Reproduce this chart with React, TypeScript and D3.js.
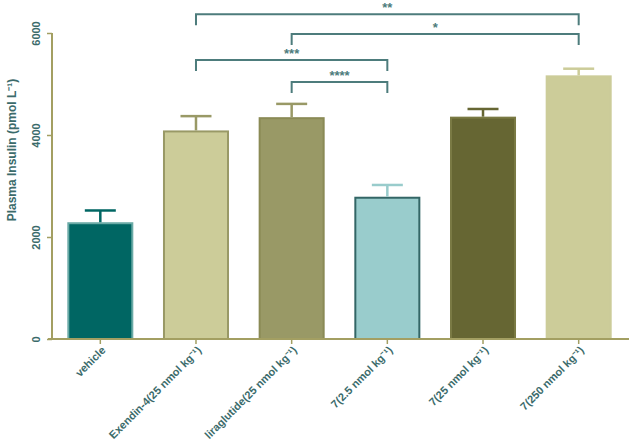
import React, { useEffect, useRef } from "react";
import * as d3 from "d3";

const groups = [
  "vehicle",
  "Exendin-4(25 nmol kg\u207B\u00B9)",
  "liraglutide(25 nmol kg\u207B\u00B9)",
  "7(2.5 nmol kg\u207B\u00B9)",
  "7(25 nmol kg\u207B\u00B9)",
  "7(250 nmol kg\u207B\u00B9)",
];
const means = [2270, 4070, 4330, 2770, 4340, 5150];
const sems = [250, 300, 280, 250, 170, 150];
const fills = ["#006663", "#cccc99", "#999966", "#99cccc", "#666633", "#cccc99"];
const strokes = ["#6aaaa6", "#999966", "#8a8a55", "#336666", "#7a7a44", "#cccc99"];
const errColors = ["#006663", "#999966", "#999966", "#99cccc", "#666633", "#cccc99"];
const yTicks = [0, 2000, 4000, 6000];

// significance brackets: from index, to index, label, bracket height (pmol/L)
const bFrom = [1, 2, 1, 2];
const bTo = [5, 5, 3, 3];
const bLabel = ["**", "*", "***", "****"];
const bLevel = [6370, 5980, 5470, 5040];

const W = 629;
const H = 448;
const axisCol = "#a39f62";
const textCol = "#3b6b6b";
const sigCol = "#4d7c7c";
const font = "Liberation Sans, Arial, sans-serif";

const App = () => {
  const ref = useRef<SVGSVGElement>(null);

  useEffect(() => {
    const svg = d3.select(ref.current);
    svg.selectAll("*").remove();

    const left = 52;
    const x = d3.scaleBand().domain(groups).range([left, 627]).paddingInner(0.31).paddingOuter(0.16);
    const y = d3.scaleLinear().domain([0, 6000]).range([339, 33]);
    const g = svg.append("g");

    // bars
    g.selectAll("rect.bar")
      .data(groups)
      .join("rect")
      .attr("class", "bar")
      .attr("x", (d) => x(d)! + 1)
      .attr("width", x.bandwidth() - 2)
      .attr("y", (d, i) => y(means[i]))
      .attr("height", (d, i) => y(0) - y(means[i]))
      .attr("fill", (d, i) => fills[i])
      .attr("stroke", (d, i) => strokes[i])
      .attr("stroke-width", 2);

    // error bars (upper SEM)
    const eb = g.selectAll("g.err").data(groups).join("g").attr("class", "err");
    eb.append("line")
      .attr("x1", (d) => x(d)! + x.bandwidth() / 2)
      .attr("x2", (d) => x(d)! + x.bandwidth() / 2)
      .attr("y1", (d, i) => y(means[i]) - 1)
      .attr("y2", (d, i) => y(means[i] + sems[i]))
      .attr("stroke", (d, i) => errColors[i])
      .attr("stroke-width", 2.5);
    eb.append("line")
      .attr("x1", (d) => x(d)! + x.bandwidth() / 2 - 15.5)
      .attr("x2", (d) => x(d)! + x.bandwidth() / 2 + 15.5)
      .attr("y1", (d, i) => y(means[i] + sems[i]))
      .attr("y2", (d, i) => y(means[i] + sems[i]))
      .attr("stroke", (d, i) => errColors[i])
      .attr("stroke-width", 2.5);

    // axes
    const yAxis = g.append("g").attr("transform", `translate(${left},0)`)
      .call(d3.axisLeft(y).tickValues(yTicks).tickSize(5).tickFormat(d3.format("d")));
    yAxis.select(".domain").attr("stroke", axisCol).attr("stroke-width", 2).attr("d", `M0,${y(6000)}V${y(0)}`);
    yAxis.selectAll(".tick line").attr("stroke", axisCol).attr("stroke-width", 1.5);
    yAxis.selectAll(".tick text")
      .attr("x", 0).attr("y", 0).attr("dy", null)
      .attr("transform", "translate(-12,0) rotate(-90)")
      .attr("text-anchor", "middle")
      .attr("fill", textCol)
      .attr("font-family", font)
      .attr("font-weight", "bold")
      .attr("font-size", 11);

    const xAxis = g.append("g").attr("transform", `translate(0,${y(0)})`)
      .call(d3.axisBottom(x).tickSize(5).tickSizeOuter(0));
    xAxis.select(".domain").attr("stroke", axisCol).attr("stroke-width", 2).attr("d", `M${left - 4},0H${W}`);
    xAxis.selectAll(".tick line").attr("stroke", axisCol).attr("stroke-width", 1.5);
    xAxis.selectAll(".tick text")
      .attr("x", 0).attr("y", 0).attr("dy", null)
      .attr("transform", "translate(6,12) rotate(-45)")
      .attr("text-anchor", "end")
      .attr("fill", textCol)
      .attr("font-family", font)
      .attr("font-weight", "bold")
      .attr("font-size", 11);

    svg.append("text")
      .attr("transform", `translate(16,150) rotate(-90)`)
      .attr("text-anchor", "middle")
      .attr("fill", textCol)
      .attr("font-family", font)
      .attr("font-weight", "bold")
      .attr("font-size", 12)
      .text("Plasma Insulin (pmol L\u207B\u00B9)");

    // significance brackets
    const cx = (i: number) => x(groups[i])! + x.bandwidth() / 2;
    const br = svg.selectAll("g.br").data(bLabel).join("g").attr("class", "br");
    br.append("path")
      .attr("d", (d, i) => {
        const yy = y(bLevel[i]);
        return `M${cx(bFrom[i])},${yy + 11}V${yy}H${cx(bTo[i])}V${yy + 11}`;
      })
      .attr("fill", "none")
      .attr("stroke", sigCol)
      .attr("stroke-width", 2);
    br.append("text")
      .attr("x", (d, i) => (cx(bFrom[i]) + cx(bTo[i])) / 2)
      .attr("y", (d, i) => y(bLevel[i]) - 2)
      .attr("text-anchor", "middle")
      .attr("fill", sigCol)
      .attr("font-family", font)
      .attr("font-weight", "bold")
      .attr("font-size", 13)
      .text((d) => d);
  }, []);

  return (
    <svg
      ref={ref}
      width={W}
      height={H}
      style={{ position: "absolute", left: 0, top: 0, background: "white" }}
    />
  );
};

export default App;
